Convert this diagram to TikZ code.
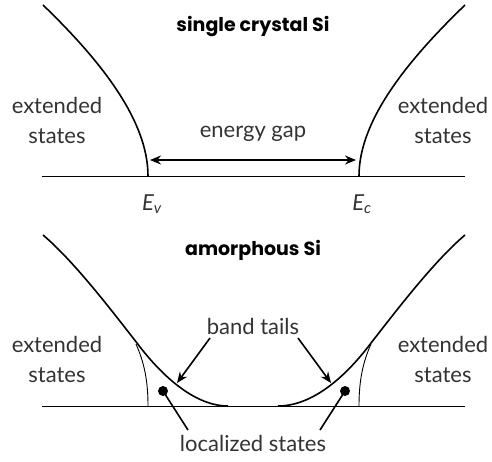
\documentclass[tikz,border=0pt]{standalone}
\usepackage{fontspec}
\setmainfont{Lato}
\newfontfamily\headfont{Poppins}
\usepackage{tikz}
\usetikzlibrary{arrows.meta,positioning,calc}

\begin{document}
\begin{tikzpicture}[x=1pt,y=-1pt,
  band/.style={line width=1.6pt},
  axis/.style={line width=0.8pt},
  edge/.style={line width=0.9pt},
  lbl/.style={font=\fontsize{22}{30}\selectfont,text=black!80,align=center,inner sep=0pt},
  ttl/.style={font=\fontsize{19}{22}\selectfont\headfont\bfseries,inner sep=0pt},
  tip/.style={line width=1.6pt},
  pointer/.style={line width=1.6pt,-{Stealth[length=11pt,width=9pt]}},
  dot/.style={circle,fill=black,inner sep=0pt,minimum size=10pt}]
\useasboundingbox (0,0) rectangle (492,461);
% single crystal
\draw[axis] (42,176) -- (465,176);
\draw[band] (43,5) .. controls (100,60) and (148,120) .. (148,176);
\draw[band] (465,5) .. controls (408,60) and (359,120) .. (359,176);
\coordinate (ev) at (150,160);
\coordinate (ec) at (356,160);
\draw[tip,{Stealth[length=11pt,width=9pt]}-{Stealth[length=11pt,width=9pt]}] (ev) -- (ec);
\node[ttl] (sc) at (253,27) {single crystal Si};
\node[lbl] (gap) at (253,134) {energy gap};
\node[lbl] (extl) at (57,120) {extended\\states};
\node[lbl] (extr) at (443,120) {extended\\states};
\node[lbl,font=\fontsize{22}{30}\selectfont\itshape] (Ev) at (152,204) {E\textsubscript{v}};
\node[lbl,font=\fontsize{22}{30}\selectfont\itshape] (Ec) at (362,204) {E\textsubscript{c}};
% amorphous
\draw[axis] (42,406) -- (465,406);
\draw[band] (43,235) .. controls (75,262) and (115,315) .. (137,343)
  .. controls (155,367) and (190,406) .. (228,406);
\draw[band] (465,235) .. controls (433,262) and (393,315) .. (371,343)
  .. controls (353,367) and (318,406) .. (278,406);
\draw[edge] (148,406) .. controls (148,380) and (144,362) .. (136,344);
\draw[edge] (359,406) .. controls (359,380) and (363,362) .. (371,344);
\node[ttl] (am) at (253,250) {amorphous Si};
\node[lbl] (tails) at (253,326) {band tails};
\node[lbl] (loc) at (253,443) {localized states};
\node[lbl] (extl2) at (57,359) {extended\\states};
\node[lbl] (extr2) at (443,359) {extended\\states};
\coordinate (tl) at (177,383);
\coordinate (tr) at (331,383);
\draw[pointer] (210,338) -- (tl);
\draw[pointer] (298,338) -- (tr);
\node[dot] (dl) at (163,391) {};
\node[dot] (dr) at (345,391) {};
\draw[band] (dl.center) -- (188,430);
\draw[band] (dr.center) -- (320,430);
\end{tikzpicture}
\end{document}
